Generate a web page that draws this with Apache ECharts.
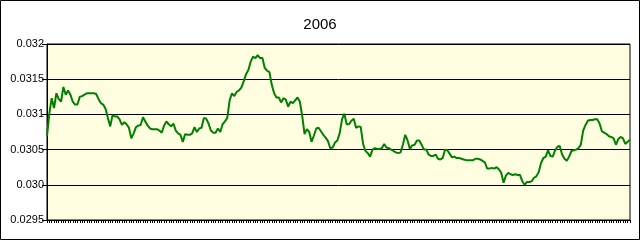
<!DOCTYPE html>
<html>
<head>
<meta charset="utf-8">
<script src="https://cdn.jsdelivr.net/npm/echarts@6/dist/echarts.min.js"></script>
<style>
html,body{margin:0;padding:0;background:#fff;}
#chart{width:640px;height:240px;}
</style>
</head>
<body>
<div id="chart"></div>
<script>
const title = "2006";
const yTickLabels = ["0.0295", "0.030", "0.0305", "0.031", "0.0315", "0.032"];
const rates = [
0.03069,0.03101,0.03123,0.03109,0.03130,0.03122,0.03118,0.03139,0.03128,0.03134,
0.03128,0.03118,0.03114,0.03114,0.03125,0.03126,0.03128,0.03130,0.03130,0.03130,
0.03130,0.03129,0.03122,0.03116,0.03114,0.03108,0.03095,0.03083,0.03099,0.03097,
0.03097,0.03093,0.03085,0.03089,0.03086,0.03081,0.03066,0.03073,0.03082,0.03084,
0.03085,0.03096,0.03090,0.03084,0.03080,0.03079,0.03079,0.03079,0.03077,0.03074,
0.03084,0.03090,0.03086,0.03083,0.03087,0.03077,0.03073,0.03071,0.03061,0.03072,
0.03071,0.03071,0.03073,0.03082,0.03075,0.03080,0.03081,0.03095,0.03094,0.03087,
0.03077,0.03074,0.03074,0.03080,0.03075,0.03086,0.03090,0.03095,0.03120,0.03130,
0.03126,0.03132,0.03134,0.03138,0.03147,0.03157,0.03163,0.03175,0.03182,0.03180,
0.03184,0.03180,0.03180,0.03166,0.03162,0.03160,0.03142,0.03130,0.03124,0.03124,
0.03117,0.03123,0.03121,0.03111,0.03118,0.03116,0.03120,0.03124,0.03118,0.03098,
0.03072,0.03079,0.03075,0.03061,0.03070,0.03080,0.03081,0.03076,0.03071,0.03067,
0.03062,0.03052,0.03053,0.03060,0.03063,0.03073,0.03093,0.03101,0.03086,0.03086,
0.03091,0.03094,0.03081,0.03083,0.03082,0.03058,0.03048,0.03045,0.03040,0.03050,
0.03052,0.03051,0.03051,0.03052,0.03058,0.03053,0.03052,0.03050,0.03048,0.03046,
0.03045,0.03046,0.03057,0.03071,0.03063,0.03051,0.03056,0.03057,0.03063,0.03063,
0.03057,0.03050,0.03050,0.03043,0.03041,0.03041,0.03043,0.03037,0.03036,0.03038,
0.03050,0.03049,0.03044,0.03039,0.03040,0.03038,0.03038,0.03037,0.03036,0.03035,
0.03035,0.03035,0.03035,0.03037,0.03037,0.03036,0.03034,0.03032,0.03023,0.03023,
0.03024,0.03023,0.03025,0.03022,0.03017,0.03003,0.03013,0.03017,0.03015,0.03014,
0.03015,0.03014,0.03014,0.03005,0.03000,0.03004,0.03004,0.03005,0.03010,0.03012,
0.03018,0.03031,0.03038,0.03040,0.03049,0.03041,0.03040,0.03049,0.03054,0.03055,
0.03043,0.03037,0.03034,0.03040,0.03048,0.03049,0.03050,0.03052,0.03057,0.03077,
0.03085,0.03091,0.03092,0.03092,0.03093,0.03093,0.03087,0.03076,0.03074,0.03072,
0.03069,0.03068,0.03066,0.03057,0.03065,0.03068,0.03066,0.03058,0.03061,0.03064
];
const days = rates.map((_, i) => String(i + 1));

const chart = echarts.init(document.getElementById('chart'), null, {renderer: 'canvas'});
const font = 'Arial, "Liberation Sans", sans-serif';
chart.setOption({
  animation: false,
  backgroundColor: '#ffffff',
  title: {
    text: title,
    left: 'center',
    top: 12,
    textStyle: {fontFamily: font, fontSize: 15, fontWeight: 'normal', color: '#000'}
  },
  graphic: [{
    type: 'rect',
    shape: {x: 0.5, y: 0.5, width: 639, height: 239},
    style: {fill: 'none', stroke: '#000', lineWidth: 1},
    silent: true
  }],
  grid: {
    left: 47, right: 10, top: 44, bottom: 20,
    show: true, backgroundColor: '#FFFDE0', borderColor: '#000', borderWidth: 1
  },
  xAxis: {
    type: 'category',
    data: days,
    boundaryGap: false,
    axisLine: {lineStyle: {color: '#000', width: 1}},
    axisTick: {show: true, interval: 0, length: 3, lineStyle: {color: '#000'}},
    axisLabel: {show: false},
    splitLine: {show: false}
  },
  yAxis: {
    type: 'value',
    min: 0.0295, max: 0.032, interval: 0.0005,
    axisLine: {show: true, lineStyle: {color: '#000', width: 1}},
    axisTick: {show: true, length: 5, lineStyle: {color: '#000'}},
    axisLabel: {
      margin: 3, color: '#000', fontFamily: font, fontSize: 11,
      formatter: v => yTickLabels[Math.round((v - 0.0295) / 0.0005)]
    },
    splitLine: {show: true, lineStyle: {color: '#000', width: 1}}
  },
  series: [{
    type: 'line',
    data: rates,
    symbol: 'none',
    lineStyle: {color: '#008000', width: 2},
    itemStyle: {color: '#008000'}
  }]
});
</script>
</body>
</html>
